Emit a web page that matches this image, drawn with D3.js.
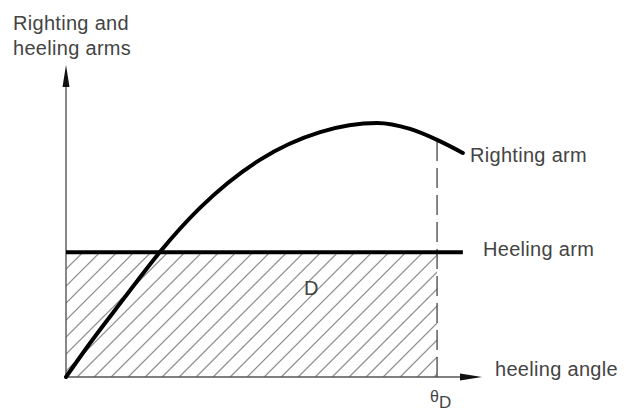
<!DOCTYPE html>
<html>
<head>
<meta charset="utf-8">
<script src="https://cdn.jsdelivr.net/npm/d3@7"></script>
<style>
  html, body { margin: 0; padding: 0; background: #fff; }
  svg { display: block; }
  text { font-family: "Liberation Sans", Arial, sans-serif; fill: #444; }
</style>
</head>
<body>
<svg id="chart" width="638" height="412"></svg>
<script>
// Heeling angle (arbitrary units along the horizontal axis)
const angles       = [0, 5.8, 11.8, 17.3, 22.6, 32.2, 46.6, 61.1, 74.8, 82.7, 89.2, 95.4];
// Righting arm at each heeling angle
const rightingArm  = [0, 10.9, 21.5, 31.1, 40.1, 54.2, 69.6, 78.5, 81.4, 79.5, 76.0, 71.8];
// Constant heeling arm and the angle range it is drawn over
const heelingArm   = 40;
const heelingRange = [0, 95.4];
// Angle marked θD
const thetaD       = 89.2;
// Axis extents (arrow tips)
const xMax = 100, yMax = 100;

const svg = d3.select("#chart");
const x = d3.scaleLinear().domain([0, xMax]).range([66, 482]);
const y = d3.scaleLinear().domain([0, yMax]).range([377, 65]);

const defs = svg.append("defs");
defs.append("clipPath").attr("id", "areaD")
  .append("rect")
  .attr("x", x(0)).attr("y", y(heelingArm))
  .attr("width", x(thetaD) - x(0)).attr("height", y(0) - y(heelingArm));

// Hatched area D
const hatch = svg.append("g").attr("clip-path", "url(#areaD)");
const H = y(0) - y(heelingArm);
const step = 17;
for (let k = x(0) - H; k < x(thetaD); k += step) {
  hatch.append("line")
    .attr("x1", k).attr("y1", y(0))
    .attr("x2", k + H).attr("y2", y(heelingArm))
    .attr("stroke", "#8f8f8f").attr("stroke-width", 1.2);
}

// Axes
svg.append("line")
  .attr("x1", x(0)).attr("y1", y(0)).attr("x2", x(0)).attr("y2", y(yMax) + 20)
  .attr("stroke", "#555").attr("stroke-width", 1.4);
svg.append("line")
  .attr("x1", x(0)).attr("y1", y(0)).attr("x2", x(xMax) - 18).attr("y2", y(0))
  .attr("stroke", "#555").attr("stroke-width", 1.4);
// Arrow heads
svg.append("path")
  .attr("d", `M${x(0)},${y(yMax)} L${x(0) - 3.5},${y(yMax) + 22} L${x(0) + 3.5},${y(yMax) + 22} Z`)
  .attr("fill", "#111");
svg.append("path")
  .attr("d", `M${x(xMax)},${y(0)} L${x(xMax) - 22},${y(0) - 3.5} L${x(xMax) - 22},${y(0) + 3.5} Z`)
  .attr("fill", "#111");

// θD dashed marker
svg.append("line")
  .attr("x1", x(thetaD)).attr("x2", x(thetaD))
  .attr("y1", y(0)).attr("y2", 140)
  .attr("stroke", "#444").attr("stroke-width", 1.3)
  .attr("stroke-dasharray", "20,7");

// Heeling arm
svg.append("line")
  .attr("x1", x(heelingRange[0])).attr("x2", x(heelingRange[1]))
  .attr("y1", y(heelingArm)).attr("y2", y(heelingArm))
  .attr("stroke", "#000").attr("stroke-width", 4);

// Righting arm curve
const line = d3.line()
  .x((d, i) => x(angles[i]))
  .y(d => y(d))
  .curve(d3.curveMonotoneX);
svg.append("path")
  .datum(rightingArm)
  .attr("d", line)
  .attr("fill", "none")
  .attr("stroke", "#000").attr("stroke-width", 4)
  .attr("stroke-linecap", "round");

// Labels
const fs = 20;
const lab = (tx, ty, s) => svg.append("text").attr("x", tx).attr("y", ty)
  .attr("font-size", fs).attr("letter-spacing", 0.3).text(s);
lab(13, 30, "Righting and");
lab(13, 55, "heeling arms");
lab(470, 162, "Righting arm");
lab(483, 256, "Heeling arm");
lab(495, 376, "heeling angle");
svg.append("text").attr("x", 304).attr("y", 295).attr("font-size", 20).text("D");
const th = svg.append("text").attr("x", 430).attr("y", 402).attr("font-size", 16);
th.append("tspan").text("θ");
th.append("tspan").attr("dy", 6).attr("font-size", 17).text("D");
</script>
</body>
</html>
